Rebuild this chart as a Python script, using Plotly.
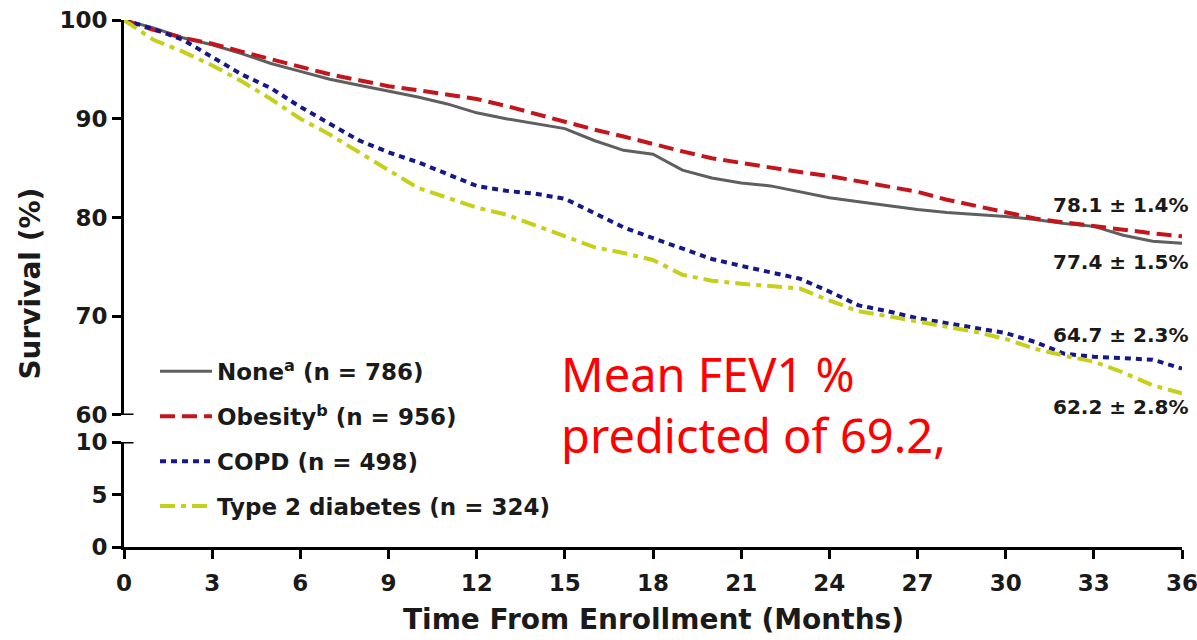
import plotly.graph_objects as go

months = list(range(0, 37))

none_surv = [100, 99.2, 98.2, 97.5, 96.6, 95.6, 94.8, 94.0, 93.4, 92.8, 92.2, 91.5, 90.6,
             90.0, 89.5, 89.0, 87.8, 86.8, 86.4, 84.8, 84.0, 83.5, 83.2, 82.6, 82.0,
             81.6, 81.2, 80.8, 80.5, 80.3, 80.1, 79.8, 79.4, 79.1, 78.2, 77.6, 77.4]
obesity_surv = [100, 99.0, 98.2, 97.6, 96.8, 96.0, 95.2, 94.5, 93.9, 93.3, 92.9, 92.5, 92.0,
                91.3, 90.5, 89.6, 88.9, 88.2, 87.4, 86.7, 86.0, 85.5, 85.0, 84.6, 84.2,
                83.7, 83.2, 82.6, 81.8, 81.2, 80.5, 79.9, 79.5, 79.1, 78.8, 78.4, 78.1]
copd_surv = [100, 99.1, 98.0, 96.3, 94.5, 93.1, 91.2, 89.5, 87.8, 86.6, 85.6, 84.4, 83.2,
             82.7, 82.4, 81.9, 80.4, 79.0, 77.9, 76.8, 75.8, 75.1, 74.4, 73.8, 72.5,
             71.1, 70.5, 69.8, 69.3, 68.8, 68.3, 67.4, 66.2, 65.9, 65.7, 65.6, 64.7]
t2d_surv = [100, 98.0, 96.8, 95.4, 93.8, 92.0, 90.0, 88.4, 86.6, 84.8, 83.0, 82.0, 81.0,
            80.3, 79.2, 78.1, 77.0, 76.4, 75.7, 74.2, 73.6, 73.3, 73.1, 72.8, 71.6,
            70.5, 70.0, 69.5, 69.0, 68.4, 67.7, 66.7, 66.0, 65.4, 64.3, 63.0, 62.2]

series_names = ["None<sup>a</sup> (n = 786)", "Obesity<sup>b</sup> (n = 956)",
                "COPD (n = 498)", "Type 2 diabetes (n = 324)"]
end_labels = ["78.1 \u00b1 1.4%", "77.4 \u00b1 1.5%", "64.7 \u00b1 2.3%", "62.2 \u00b1 2.8%"]
end_label_y = [81.3, 75.5, 68.1, 60.8]

x_ticks = list(range(0, 37, 3))
top_ticks = [60, 70, 80, 90, 100]
bottom_ticks = [0, 5, 10]

FONT = "DejaVu Sans"
INK = "#1a1a1a"

fig = go.Figure()
styles = [
    dict(color="#5f5f5f", width=3, dash="solid"),
    dict(color="#c3161c", width=4, dash="15px,7px"),
    dict(color="#16188a", width=4, dash="6px,5px"),
    dict(color="#c6cf1a", width=4, dash="15px,6px,5px,6px"),
]
for i, (name, ys) in enumerate(zip(series_names,
                                   [none_surv, obesity_surv, copd_surv, t2d_surv])):
    fig.add_trace(go.Scatter(x=months, y=ys, mode="lines", name=name,
                             line=styles[i], legendgroup=str(i),
                             xaxis="x", yaxis="y"))

# empty trace so the lower (broken) axis panel is created
fig.add_trace(go.Scatter(x=[], y=[], xaxis="x", yaxis="y2", showlegend=False,
                         hoverinfo="skip"))

axis_common = dict(showline=True, linecolor="black", linewidth=3,
                   ticks="outside", ticklen=9, tickwidth=3, tickcolor="black",
                   showgrid=False, zeroline=False, automargin=False,
                   tickfont=dict(family=FONT, size=23, color=INK, weight="bold"))

fig.update_layout(
    width=1197, height=640,
    margin=dict(l=124, r=15, t=20, b=93),
    paper_bgcolor="white", plot_bgcolor="white",
    xaxis=dict(range=[0, 36], tickvals=x_ticks, anchor="y2",
               ticklabelstandoff=4, ticklabeloverflow="allow", **axis_common),
    yaxis=dict(range=[60, 100], tickvals=top_ticks, domain=[0.2505, 1],
               anchor="x", **axis_common),
    yaxis2=dict(range=[0, 10], tickvals=bottom_ticks, domain=[0, 0.1992],
                anchor="x", **axis_common),
    legend=dict(x=0.0293, y=0.374, xanchor="left", yanchor="top",
                bgcolor="rgba(0,0,0,0)", itemwidth=52,
                tracegroupgap=12, traceorder="grouped",
                font=dict(family=FONT, size=23, color=INK, weight="bold")),
    showlegend=True,
)

# axis break marks
fig.add_shape(type="line", xref="paper", yref="y", x0=-0.009, x1=0.009, y0=60, y1=60,
              line=dict(color="black", width=3))
fig.add_shape(type="line", xref="paper", yref="y2", x0=-0.009, x1=0.009, y0=10, y1=10,
              line=dict(color="black", width=3))

# end-of-curve labels
for txt, yv in zip(end_labels, end_label_y):
    fig.add_annotation(x=36, y=yv, xref="x", yref="y", text=txt, showarrow=False,
                       xanchor="right", xshift=9, yanchor="middle",
                       font=dict(family=FONT, size=20, color=INK, weight="bold"))

# axis titles
fig.add_annotation(x=0.5, y=-0.138, xref="paper", yref="paper",
                   text="Time From Enrollment (Months)", showarrow=False,
                   xanchor="center", yanchor="middle",
                   font=dict(family=FONT, size=28, color=INK, weight="bold"))
fig.add_annotation(x=-0.0888, y=0.5, xref="paper", yref="paper",
                   text="Survival (%)", showarrow=False, textangle=-90,
                   xanchor="center", yanchor="middle",
                   font=dict(family=FONT, size=28, color=INK, weight="bold"))

# red overlay note
fig.add_annotation(x=0.411, y=0.27, xref="paper", yref="paper",
                   text="Mean FEV1 %<br>predicted of 69.2,", showarrow=False,
                   xanchor="left", yanchor="middle", align="left",
                   font=dict(family="Noto Sans", size=47, color="#ff0000"))

fig.write_html("out.html")
